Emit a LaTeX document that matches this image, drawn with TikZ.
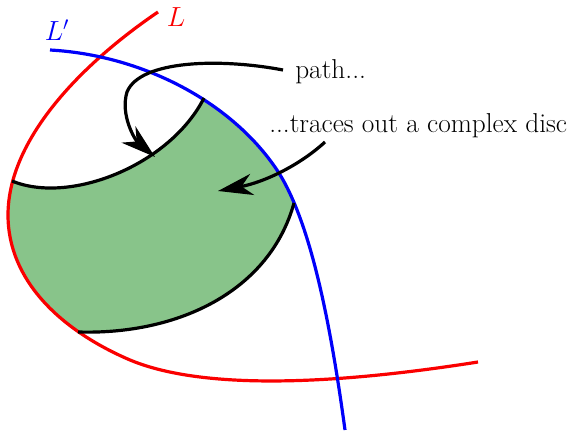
\documentclass[tikz,border=0pt]{standalone}
\usetikzlibrary{arrows.meta}
\definecolor{disc}{RGB}{136,196,138}
\definecolor{lred}{RGB}{250,0,0}
\definecolor{lblue}{RGB}{0,0,250}
\tikzset{
  curve/.style={line width=2.4pt},
  edge/.style={line width=2.4pt,black},
  pointer/.style={line width=2.4pt,black,-{Stealth[length=26pt,width=16pt,inset=8pt]}},
  lab/.style={font=\fontsize{20.5}{24}\selectfont,inner sep=0pt}
}
\begin{document}
\begin{tikzpicture}[x=0.75pt,y=-0.75pt]
\useasboundingbox (0,0) rectangle (574,432);
% disc, clipped by L and L'
\begin{scope}
  \clip (158,12) .. controls (80,65) and (8,140) .. (8,215)
        .. controls (8,280) and (60,330) .. (130,360)
        .. controls (190,385) and (300,390) .. (478,362)
        -- (574,362) -- (574,0) -- (158,0) -- cycle;
  \clip (50,50) .. controls (140,55) and (230,100) .. (277,170)
        .. controls (310,220) and (330,320) .. (345,430)
        -- (0,432) -- (0,50) -- cycle;
  \fill[disc] (-10,178) -- (12,181) .. controls (70,205) and (170,165) .. (204,98)
    -- (215,80) -- (330,150) -- (305,200) -- (294,203)
    .. controls (270,290) and (180,335) .. (78,332)
    -- (60,345) -- (-10,300) -- cycle;
\end{scope}
% L
\draw[curve,lred] (158,12) .. controls (80,65) and (8,140) .. (8,215)
        .. controls (8,280) and (60,330) .. (130,360)
        .. controls (190,385) and (300,390) .. (478,362);
% L'
\draw[curve,lblue] (50,50) .. controls (140,55) and (230,100) .. (277,170)
        .. controls (310,220) and (330,320) .. (345,430);
% disc edges
\draw[edge] (12,181) .. controls (70,205) and (170,165) .. (204,98);
\draw[edge] (294,203) .. controls (270,290) and (180,335) .. (78,332);
% labels
\node[lab,text=lred] (lL) at (176,17) {$L$};
\node[lab,text=lblue] (lLp) at (57,30) {$L'$};
\node[lab,anchor=base west] (pathtxt) at (295,78) {path...};
\node[lab,anchor=base west] (trtxt) at (269,132) {...traces out a complex disc};
% arrows
\coordinate (a1s) at (283,70);
\coordinate (a1e) at (155,157);
\coordinate (a2s) at (325,142);
\coordinate (a2e) at (218,191);
\draw[pointer] (a1s) .. controls (220,58) and (140,60) .. (127,92) .. controls (120,115) and (135,140) .. (a1e);
\draw[pointer] (a2s) .. controls (300,165) and (265,182) .. (a2e);
\end{tikzpicture}
\end{document}
